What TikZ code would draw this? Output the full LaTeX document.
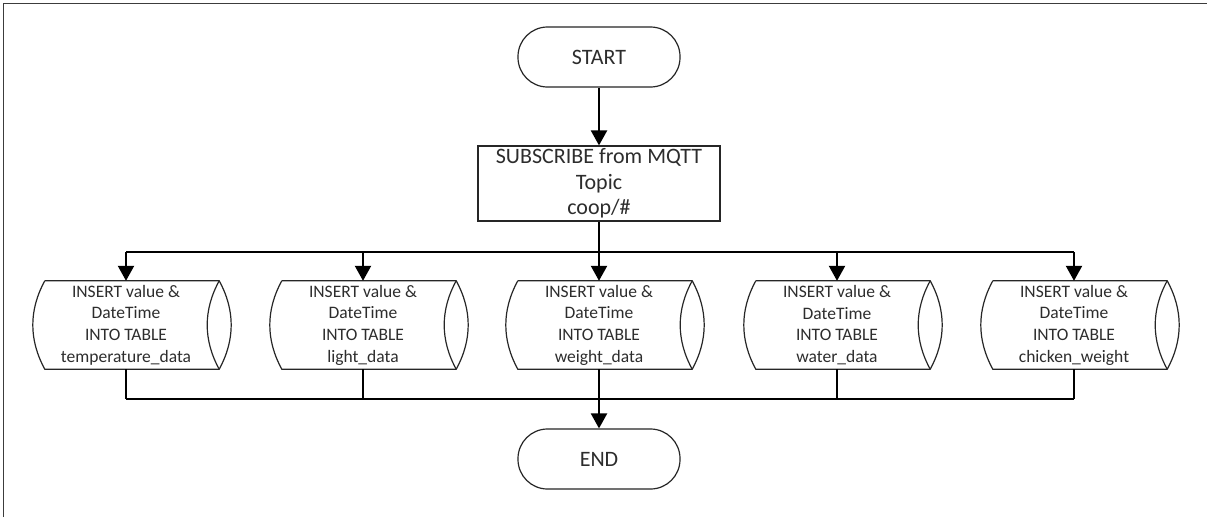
\documentclass[tikz,border=0pt]{standalone}
\usepackage{fontspec}
\setmainfont{Carlito}
\usetikzlibrary{arrows.meta}

\definecolor{txt}{RGB}{45,45,45}
\definecolor{edge}{RGB}{38,38,38}
\definecolor{frame}{RGB}{60,60,60}

\tikzset{
  terminal/.style={draw=edge, line width=1.2pt, rounded corners=29.5pt,
    minimum width=162pt, minimum height=60pt, inner sep=0pt,
    font=\fontsize{22}{25.5}\selectfont, text=txt, align=center},
  procbox/.style={draw=edge, line width=1.2pt,
    minimum width=242pt, minimum height=75pt, inner sep=0pt,
    font=\fontsize{22}{25.5}\selectfont, text=txt, align=center},
  storebox/.style={minimum width=186pt, minimum height=88pt, inner sep=0pt,
    font=\fontsize{17.5}{21.7}\selectfont, text=txt, align=center},
  storeline/.style={draw=edge, line width=1.2pt, line join=miter},
  conn/.style={draw=black, line width=2.2pt},
  flow/.style={conn, -{Triangle[length=15pt,width=16pt]}},
}

% outline of a stored-data symbol around a named node
\newcommand{\storeoutline}[1]{%
  \draw[storeline]
    ([xshift=12pt]#1.north west) -- (#1.north east)
    .. controls ([xshift=16pt,yshift=-29.3pt]#1.north east)
       and ([xshift=16pt,yshift=29.3pt]#1.south east) .. (#1.south east)
    -- ([xshift=12pt]#1.south west)
    .. controls ([xshift=-4pt,yshift=29.3pt]#1.south west)
       and ([xshift=-4pt,yshift=-29.3pt]#1.north west) .. ([xshift=12pt]#1.north west);
  \draw[storeline]
    (#1.north east)
    .. controls ([xshift=-16pt,yshift=-29.3pt]#1.north east)
       and ([xshift=-16pt,yshift=29.3pt]#1.south east) .. (#1.south east);
}

\begin{document}
\begin{tikzpicture}[x=1pt,y=-1pt]
  \useasboundingbox (0,0) rectangle (1207,517);
  \fill[white] (0,0) rectangle (1207,517);

  % page frame
  \draw[frame, line width=1.8pt] (3.5,517) -- (3.5,3.5) -- (1207,3.5);

  \node[terminal] (start) at (599,57) {START};
  \node[procbox] (sub) at (599,183.5) {SUBSCRIBE from MQTT\\Topic\\coop/\#};

  \node[storebox] (c1) at (126,325) {INSERT value \&\\DateTime\\INTO TABLE\\temperature\_data};
  \node[storebox] (c2) at (363,325) {INSERT value \&\\DateTime\\INTO TABLE\\light\_data};
  \node[storebox] (c3) at (599,325) {INSERT value \&\\DateTime\\INTO TABLE\\weight\_data};
  \node[storebox] (c4) at (837,325) {INSERT value \&\\DateTime\\INTO TABLE\\water\_data};
  \node[storebox] (c5) at (1074,325) {INSERT value \&\\DateTime\\INTO TABLE\\chicken\_weight};

  \foreach \c in {c1,c2,c3,c4,c5} {\storeoutline{\c}}

  \node[terminal] (end) at (599,459) {END};

  % split and join rails
  \coordinate (split) at (599,252);
  \coordinate (join) at (599,399);

  \draw[flow] (start) -- (sub);
  \draw[flow] (sub) -- (c3);
  \draw[conn] (c1.north |- split) -- (c5.north |- split);
  \foreach \c in {c1,c2,c4,c5} {\draw[flow] (\c.north |- split) -- (\c.north);}

  \foreach \c in {c1,c2,c4,c5} {\draw[conn] (\c.south) -- (\c.south |- join);}
  \draw[conn] (c1.south |- join) -- (c5.south |- join);
  \draw[flow] (c3) -- (end);
\end{tikzpicture}
\end{document}
